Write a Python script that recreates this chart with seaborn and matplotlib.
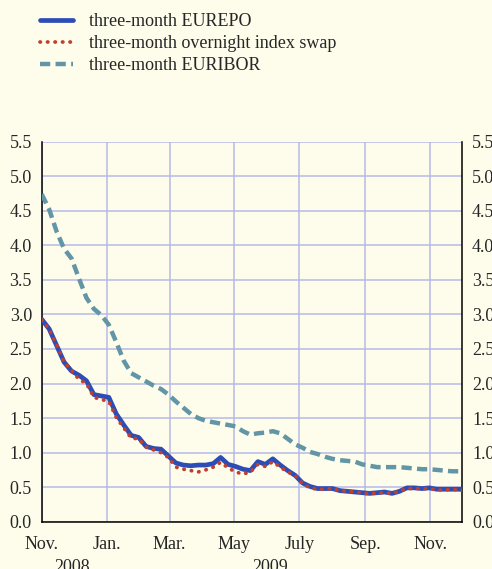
import matplotlib
matplotlib.use('Agg')
import pandas as pd
import seaborn as sns
import matplotlib.pyplot as plt

# weekly observations, Nov 2008 - Dec 2009 (percentages)
week_dates = pd.date_range('2008-11-01', periods=58, freq='7D')

eurepo = [2.93, 2.79, 2.55, 2.31, 2.18, 2.12, 2.04, 1.84, 1.82, 1.80,
          1.56, 1.40, 1.25, 1.22, 1.09, 1.06, 1.05, 0.95, 0.85, 0.82,
          0.81, 0.82, 0.82, 0.84, 0.93, 0.83, 0.80, 0.76, 0.74, 0.87,
          0.83, 0.91, 0.82, 0.74, 0.67, 0.56, 0.51, 0.48, 0.48, 0.48,
          0.45, 0.44, 0.43, 0.42, 0.41, 0.42, 0.43, 0.41, 0.44, 0.49,
          0.49, 0.48, 0.49, 0.47, 0.47, 0.47, 0.47, 0.46]

ois = [2.92, 2.78, 2.56, 2.31, 2.19, 2.06, 2.00, 1.80, 1.77, 1.74,
       1.51, 1.36, 1.21, 1.20, 1.08, 1.04, 1.00, 0.93, 0.79, 0.76,
       0.74, 0.72, 0.75, 0.79, 0.86, 0.78, 0.72, 0.69, 0.72, 0.83,
       0.80, 0.87, 0.79, 0.72, 0.67, 0.55, 0.49, 0.47, 0.47, 0.48,
       0.45, 0.44, 0.43, 0.42, 0.40, 0.42, 0.42, 0.41, 0.44, 0.48,
       0.48, 0.48, 0.48, 0.46, 0.46, 0.47, 0.46, 0.45]

euribor = [4.74, 4.52, 4.20, 3.95, 3.81, 3.52, 3.24, 3.08, 2.99, 2.85,
           2.60, 2.33, 2.15, 2.09, 2.03, 1.97, 1.92, 1.84, 1.74, 1.65,
           1.56, 1.50, 1.46, 1.44, 1.42, 1.40, 1.38, 1.31, 1.26, 1.28,
           1.29, 1.31, 1.28, 1.20, 1.12, 1.07, 1.01, 0.98, 0.94, 0.91,
           0.89, 0.88, 0.87, 0.83, 0.81, 0.79, 0.79, 0.79, 0.79, 0.78,
           0.77, 0.76, 0.76, 0.75, 0.74, 0.73, 0.73, 0.74]

month_ticks = ['2008-11-01', '2009-01-01', '2009-03-01', '2009-05-01',
               '2009-07-01', '2009-09-01', '2009-11-01']
month_labels = ['Nov.', 'Jan.', 'Mar.', 'May', 'July', 'Sep.', 'Nov.']
y_ticks = [0.0, 0.5, 1.0, 1.5, 2.0, 2.5, 3.0, 3.5, 4.0, 4.5, 5.0, 5.5]

df = pd.DataFrame({'date': week_dates, 'eurepo': eurepo, 'ois': ois, 'euribor': euribor})

bg = '#FEFDEB'
sns.set_style('white')
plt.rcParams['font.family'] = ['Liberation Serif', 'DejaVu Serif']
plt.rcParams['font.size'] = 13

fig = plt.figure(figsize=(4.92, 5.69), dpi=100, facecolor=bg)
ax = fig.add_axes([0.0848, 0.0831, 0.8549, 0.6679], facecolor=bg)

sns.lineplot(data=df, x='date', y='eurepo', ax=ax, color='#2C4DB6', lw=3.4,
             label='three-month EUREPO', zorder=3)
sns.lineplot(data=df, x='date', y='ois', ax=ax, color='#C0402E', lw=2.7,
             linestyle=(0, (0.1, 1.9)), dash_capstyle='round',
             label='three-month overnight index swap', zorder=4)
sns.lineplot(data=df, x='date', y='euribor', ax=ax, color='#6295A5', lw=3.2,
             linestyle=(0, (2.3, 1.2)), label='three-month EURIBOR', zorder=3)

ax.set_xlim(pd.Timestamp('2008-11-01'), pd.Timestamp('2009-12-01'))
ax.set_ylim(0, 5.5)
ax.set_xticks(pd.to_datetime(month_ticks))
ax.set_xticklabels(month_labels)
ax.set_yticks(y_ticks)
ax.set_yticklabels(['%.1f' % v for v in y_ticks])
ax.set_xlabel('')
ax.set_ylabel('')

ax.grid(True, color='#B6BAE6', lw=1.1)
ax.set_axisbelow(True)
ax.tick_params(axis='y', length=0, pad=7, labelright=True, labelsize=13)
ax.tick_params(axis='x', length=3, width=1, direction='out', pad=7,
               labelsize=13, color='black')
# year boundary tick is longer
ax.xaxis.get_major_ticks()[1].tick1line.set_markersize(7)

for side in ['left', 'right', 'bottom']:
    ax.spines[side].set_visible(True)
    ax.spines[side].set_color('black')
    ax.spines[side].set_linewidth(1.1)
ax.spines['top'].set_visible(False)

fig.text(72 / 492, 1 - 559 / 569, '2008', ha='center', va='top', fontsize=13)
fig.text(270 / 492, 1 - 559 / 569, '2009', ha='center', va='top', fontsize=13)

handles, labels = ax.get_legend_handles_labels()
ax.get_legend().remove()
fig.legend(handles, labels, loc='upper left', bbox_to_anchor=(40 / 492, 1 - 13 / 569),
           frameon=False, borderpad=0, borderaxespad=0, handlelength=1.85,
           handletextpad=0.85, labelspacing=0.28, fontsize=13)

fig.savefig('out.png', dpi=100, facecolor=bg)
